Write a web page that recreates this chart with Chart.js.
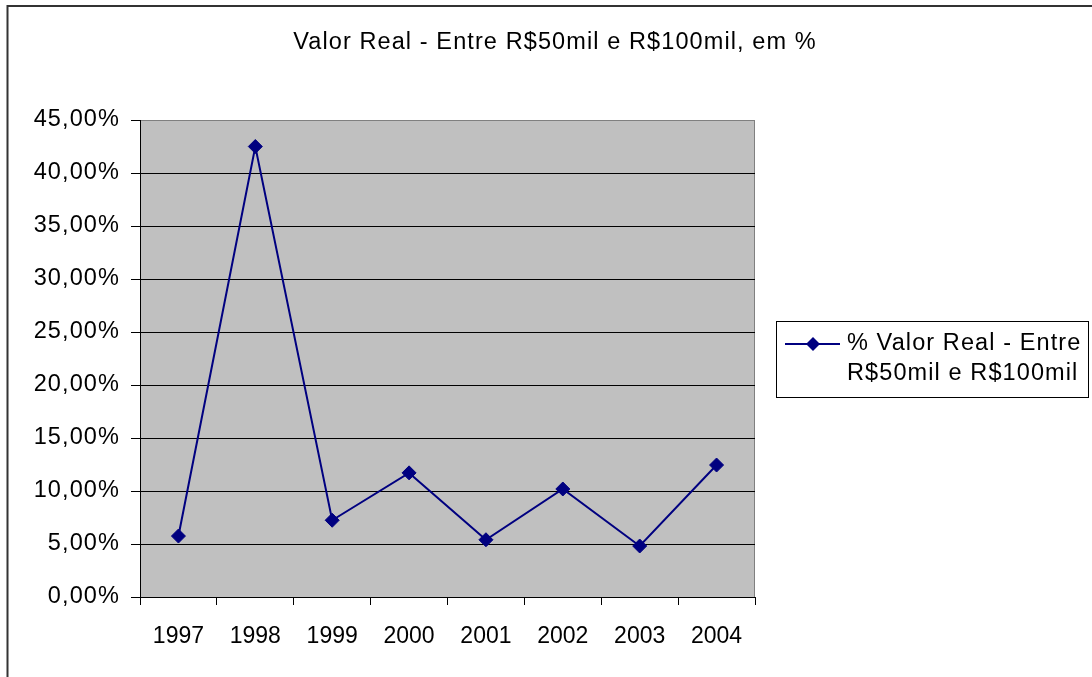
<!DOCTYPE html>
<html>
<head>
<meta charset="utf-8">
<script src="https://cdn.jsdelivr.net/npm/chart.js@4.4.1/dist/chart.umd.min.js"></script>
<style>
  html, body { margin: 0; padding: 0; background: #ffffff; }
  #wrap { width: 1092px; height: 677px; position: relative; }
</style>
</head>
<body>
<div id="wrap"><canvas id="c" width="1092" height="677"></canvas></div>
<script>
const chartTitle = 'Valor Real - Entre R$50mil e R$100mil, em %';
const seriesLabel = '% Valor Real - Entre R$50mil e R$100mil';
const legendLines = ['% Valor Real - Entre', 'R$50mil e R$100mil'];
const years = ['1997', '1998', '1999', '2000', '2001', '2002', '2003', '2004'];
const valoresPct = [5.75, 42.5, 7.24, 11.71, 5.40, 10.19, 4.81, 12.45];
const yMin = 0, yMax = 45, yStep = 5;

const FONT = 'Arial, "Liberation Sans", sans-serif';
const NAVY = '#000080';
const SPACING = '1.1px';

const framePlugin = {
  id: 'frame',
  beforeDraw(chart) {
    const ctx = chart.ctx;
    const a = chart.chartArea;
    ctx.save();
    ctx.fillStyle = '#ffffff';
    ctx.fillRect(0, 0, chart.width, chart.height);
    ctx.strokeStyle = '#333333';
    ctx.lineWidth = 2;
    ctx.beginPath();
    ctx.moveTo(7.5, chart.height);
    ctx.lineTo(7.5, 6);
    ctx.lineTo(chart.width, 6);
    ctx.stroke();
    ctx.fillStyle = '#C0C0C0';
    ctx.fillRect(a.left, a.top, a.right - a.left, a.bottom - a.top);
    ctx.strokeStyle = '#808080';
    ctx.lineWidth = 1;
    ctx.beginPath();
    ctx.moveTo(a.right - 0.5, a.top);
    ctx.lineTo(a.right - 0.5, a.bottom);
    ctx.stroke();
    ctx.restore();
    ctx.letterSpacing = SPACING;
  },
  afterLayout(chart) {
    const s = chart.scales.x;
    if (s && !s._noSpacing) {
      const orig = s.drawLabels.bind(s);
      s.drawLabels = function (area) {
        const c = this.ctx;
        const prev = c.letterSpacing;
        c.letterSpacing = '0px';
        orig(area);
        c.letterSpacing = prev;
      };
      s._noSpacing = true;
    }
  },
  afterDraw(chart) {
    const ctx = chart.ctx;
    const ds = chart.data.datasets[0];
    ctx.save();
    ctx.letterSpacing = SPACING;
    const bx = 776.5, by = 321.5, bw = 312, bh = 76;
    ctx.fillStyle = '#ffffff';
    ctx.fillRect(bx, by, bw, bh);
    ctx.strokeStyle = '#000000';
    ctx.lineWidth = 1;
    ctx.strokeRect(bx, by, bw, bh);
    const ly = 344;
    ctx.strokeStyle = ds.borderColor;
    ctx.lineWidth = 2;
    ctx.beginPath();
    ctx.moveTo(785, ly);
    ctx.lineTo(840, ly);
    ctx.stroke();
    ctx.fillStyle = ds.pointBackgroundColor;
    ctx.beginPath();
    ctx.moveTo(813, ly - 7); ctx.lineTo(820, ly); ctx.lineTo(813, ly + 7); ctx.lineTo(806, ly); ctx.closePath();
    ctx.fill();
    ctx.fillStyle = '#000000';
    ctx.font = '23.5px ' + FONT;
    ctx.textBaseline = 'alphabetic';
    ctx.textAlign = 'left';
    ctx.fillText(legendLines[0], 847, 350);
    ctx.fillText(legendLines[1], 847, 380);
    ctx.restore();
  }
};

new Chart(document.getElementById('c'), {
  type: 'line',
  data: {
    labels: years,
    datasets: [{
      label: seriesLabel,
      data: valoresPct,
      borderColor: NAVY,
      backgroundColor: NAVY,
      borderWidth: 2,
      pointStyle: 'rectRot',
      pointRadius: 7,
      pointHoverRadius: 7,
      pointBackgroundColor: NAVY,
      pointBorderColor: NAVY,
      pointBorderWidth: 1,
      tension: 0,
      fill: false
    }]
  },
  options: {
    responsive: false,
    animation: false,
    events: [],
    layout: { padding: { left: 18, top: 0, right: 0, bottom: 0 } },
    plugins: {
      legend: { display: false },
      tooltip: { enabled: false },
      title: {
        display: true,
        text: chartTitle,
        color: '#000000',
        font: { family: FONT, size: 23.5, weight: 'normal', lineHeight: 1.2 },
        padding: { top: 28, bottom: 120 - 28 - 28.2 }
      }
    },
    scales: {
      x: {
        type: 'category',
        offset: true,
        grid: {
          offset: true,
          drawOnChartArea: false,
          drawTicks: true,
          tickLength: 8,
          color: '#000000',
          tickColor: '#000000'
        },
        border: { display: true, color: '#000000', width: 1 },
        ticks: {
          color: '#000000',
          font: { family: FONT, size: 23 },
          padding: 18,
          maxRotation: 0,
          autoSkip: false
        },
        afterFit(s) { s.height = 80; }
      },
      y: {
        type: 'linear',
        min: yMin,
        max: yMax,
        grid: {
          color: (c) => (c.tick && c.tick.value === yMax) ? '#808080' : '#000000',
          tickColor: '#000000',
          lineWidth: 1,
          drawTicks: true,
          tickLength: 9
        },
        border: { display: true, color: '#000000', width: 1 },
        ticks: {
          stepSize: yStep,
          color: '#000000',
          font: { family: FONT, size: 23.5 },
          padding: 11,
          callback: (v) => v.toFixed(2).replace('.', ',') + '%'
        },
        afterFit(s) { s.width = 122; }
      },
      yRight: {
        type: 'linear',
        position: 'right',
        display: true,
        grid: { display: false, drawTicks: false },
        border: { display: false },
        ticks: { display: false },
        afterFit(s) { s.width = 337; }
      }
    }
  },
  plugins: [framePlugin]
});
</script>
</body>
</html>
